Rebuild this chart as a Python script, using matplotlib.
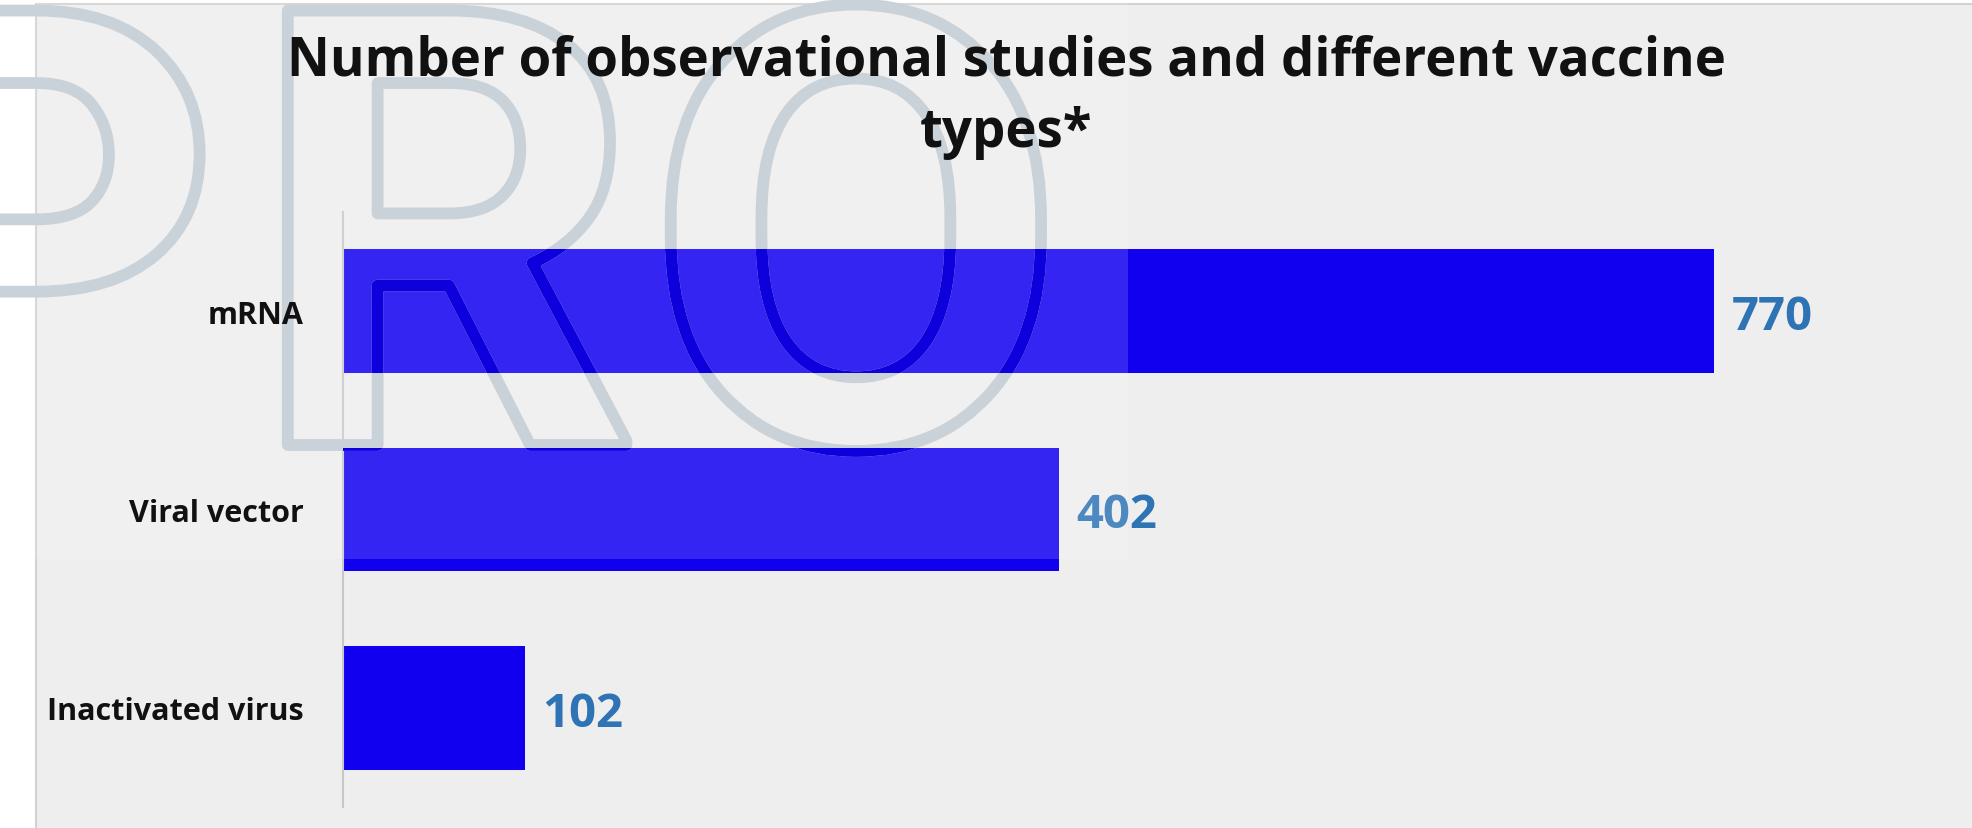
import matplotlib
matplotlib.use("Agg")
import matplotlib.pyplot as plt
from matplotlib import patheffects
from matplotlib.patches import Rectangle

# data
categories = ["mRNA", "Viral vector", "Inactivated virus"]
studies = [770, 402, 102]
title_lines = ["Number of observational studies and different vaccine", "types*"]
watermark = ["P", "R", "O"]

BAR = "#1100F0"
VALUE = "#2E74B5"
BG = "#EEEEEE"

W, H = 1972, 829
plt.rcParams['font.family'] = ['Open Sans', 'DejaVu Sans']


def fx(px):
    return px / W


def fy(py):
    return 1 - py / H


fig = plt.figure(figsize=(W / 100, H / 100), dpi=100, facecolor='white')

# grey chart area, thin border, white strip on left / top
fig.add_artist(Rectangle((fx(36), -0.05), 1.2, fy(5) + 0.05, transform=fig.transFigure,
                         facecolor=BG, edgecolor='#D2D2D2', lw=1.5, zorder=-1))

rect = [fx(343), fy(808), fx(1945) - fx(343), (808 - 213) / H]
ax = fig.add_axes(rect)
ax.patch.set_visible(False)
bars = ax.barh(categories, studies, height=0.625, color=BAR)
ax.set_xlim(0, 900)
ax.set_ylim(2.5, -0.5)

for s in ['top', 'right', 'bottom']:
    ax.spines[s].set_visible(False)
ax.spines['left'].set_color('#C8C8C8')
ax.spines['left'].set_linewidth(1.5)
ax.tick_params(left=False, bottom=False, labelbottom=False, labelleft=False)

vals = ax.bar_label(bars, labels=[str(v) for v in studies], padding=13,
                    color=VALUE, fontsize=34, fontweight='bold')
for t in vals:
    t.set_va('center_baseline')

# category labels on a transparent axes on top, so they sit above the watermark
lab = fig.add_axes(rect, zorder=3)
lab.patch.set_visible(False)
lab.set_ylim(2.5, -0.5)
lab.set_xticks([])
lab.set_yticks(range(len(categories)))
lab.set_yticklabels(categories, fontweight='bold', color='#111111')
lab.tick_params(left=False, pad=25, labelsize=22)
for s in lab.spines.values():
    s.set_visible(False)

# title
fig.text(fx(1006), fy(76), title_lines[0], ha='center', va='baseline',
         fontsize=38, fontweight='bold', color='#111111', zorder=5)
fig.text(fx(1006), fy(147), title_lines[1], ha='center', va='baseline',
         fontsize=38, fontweight='bold', color='#111111', zorder=5)

# light wash over upper left part (from the source image)
fig.add_artist(Rectangle((0, fy(560)), fx(1128), 560 / H, transform=fig.transFigure,
                         facecolor='white', alpha=0.15, lw=0, zorder=1))

# "PRO" watermark, outlined letters
wm_x = [25, 444, 856]
wm_base = 446
wm_kw = dict(fontsize=440, fontweight='bold', family=['Roboto', 'DejaVu Sans'],
             color='none', ha='center', va='baseline')
for letter, x in zip(watermark, wm_x):
    fig.text(fx(x), fy(wm_base), letter, zorder=2,
             path_effects=[patheffects.Stroke(linewidth=8.5, foreground='#CAD2D9')], **wm_kw)
    for bar in bars:
        t = fig.text(fx(x), fy(wm_base), letter, zorder=2.5, clip_on=True,
                     path_effects=[patheffects.Stroke(linewidth=8.5, foreground='#0E00DC')], **wm_kw)
        t.set_clip_path(bar)

fig.savefig("out.png", dpi=100, facecolor=fig.get_facecolor())
